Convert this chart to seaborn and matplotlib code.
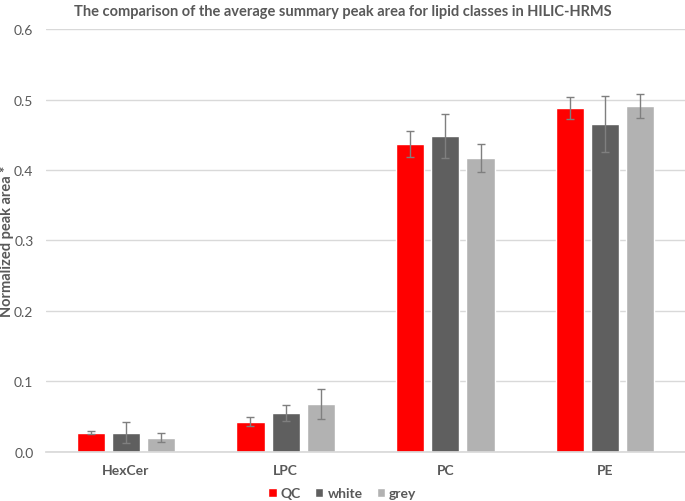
import numpy as np
import pandas as pd
import matplotlib
matplotlib.use("Agg")
import matplotlib.pyplot as plt
import seaborn as sns

# data
classes = ["HexCer", "LPC", "PC", "PE"]
groups = ["QC", "white", "grey"]
qc_mean = [0.027, 0.043, 0.437, 0.488]
white_mean = [0.027, 0.055, 0.448, 0.465]
grey_mean = [0.020, 0.068, 0.417, 0.491]
qc_err = [0.002, 0.006, 0.019, 0.015]
white_err = [0.015, 0.011, 0.031, 0.040]
grey_err = [0.006, 0.021, 0.020, 0.017]

COLORS = ["#FF0000", "#5F5F5F", "#B2B2B2"]
TEXT = "#595959"

sns.set_theme(style="white")
plt.rcParams['font.family'] = ['Lato', 'DejaVu Sans']

df = pd.DataFrame({
    "lipid": classes * 3,
    "group": [g for g in groups for _ in classes],
    "value": qc_mean + white_mean + grey_mean,
    "err": qc_err + white_err + grey_err,
})

fig = plt.figure(figsize=(6.85, 5.02), dpi=100)
ax = fig.add_axes([46 / 685, 0.098, 639 / 685, 0.842])

sns.barplot(data=df, x="lipid", y="value", hue="group", order=classes,
            hue_order=groups, palette=COLORS, saturation=1, width=0.66, gap=0.2,
            errorbar=None, ax=ax, zorder=2)

# error bars at the centre of each bar
for container, g in zip(ax.containers, groups):
    sub = df[df["group"] == g].set_index("lipid").loc[classes]
    xs = [p.get_x() + p.get_width() / 2 for p in container.patches]
    ax.errorbar(xs, sub["value"], yerr=sub["err"], fmt="none",
                ecolor="#7F7F7F", elinewidth=1, capsize=3, capthick=1, zorder=3)

ax.set_ylim(0, 0.6)
ax.set_yticks(np.arange(0, 0.61, 0.1))
ax.set_yticklabels(["0.0", "0.1", "0.2", "0.3", "0.4", "0.5", "0.6"])
ax.set_xlim(-0.5, 3.5)
ax.yaxis.grid(True, color="#D9D9D9", linewidth=1, zorder=0)
ax.set_axisbelow(True)
for s in ["top", "right", "left"]:
    ax.spines[s].set_visible(False)
ax.spines["bottom"].set_color("#D9D9D9")
ax.tick_params(axis="y", length=0, labelsize=10, colors=TEXT, pad=9)
ax.tick_params(axis="x", length=0, labelsize=10, colors=TEXT, pad=9)
for lbl in ax.get_xticklabels():
    lbl.set_fontweight("bold")

ax.set_xlabel("")
ax.set_ylabel("Normalized peak area *", fontsize=10.5, fontweight="bold", color=TEXT)
ax.yaxis.set_label_coords(-0.05, 0.5)
fig.suptitle("The comparison of the average summary peak area for lipid classes in HILIC-HRMS",
             x=0.5, y=0.99, fontsize=10.5, fontweight="bold", color=TEXT)

handles, labels = ax.get_legend_handles_labels()
ax.get_legend().remove()
leg = fig.legend(handles, labels, loc="center", bbox_to_anchor=(0.5, 8 / 502),
                 ncol=3, frameon=False, handlelength=0.6, handleheight=0.6,
                 handletextpad=0.3, columnspacing=1.0, fontsize=10,
                 borderpad=0, borderaxespad=0)
for t in leg.get_texts():
    t.set_color(TEXT)
    t.set_fontweight("bold")

fig.savefig("out.png", dpi=100)
